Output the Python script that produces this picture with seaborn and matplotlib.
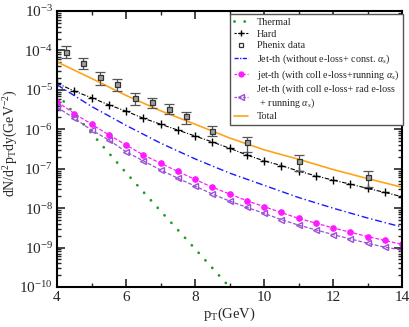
import numpy as np
import pandas as pd
import matplotlib
matplotlib.use("Agg")
import matplotlib.pyplot as plt
import seaborn as sns
from matplotlib.lines import Line2D
from matplotlib.ticker import MultipleLocator, LogLocator, NullFormatter

# ---------------- data ----------------
pt_half = [4.0, 4.5, 5.0, 5.5, 6.0, 6.5, 7.0, 7.5, 8.0, 8.5, 9.0, 9.5,
           10.0, 10.5, 11.0, 11.5, 12.0, 12.5, 13.0, 13.5, 14.0]
hard_log = [-4.83, -5.03, -5.20, -5.38, -5.54, -5.72, -5.87, -6.02, -6.17, -6.32, -6.48,
            -6.65, -6.80, -6.92, -7.06, -7.18, -7.29, -7.39, -7.50, -7.60, -7.71]
coll_log = [-5.30, -5.60, -5.87, -6.14, -6.40, -6.65, -6.86, -7.07, -7.27, -7.47, -7.64,
            -7.81, -7.96, -8.11, -8.26, -8.38, -8.50, -8.61, -8.72, -8.82, -8.92]
rad_log = [-5.44, -5.72, -6.02, -6.27, -6.57, -6.80, -7.03, -7.24, -7.44, -7.64, -7.82,
           -7.98, -8.13, -8.29, -8.43, -8.55, -8.67, -8.78, -8.89, -8.99, -9.06]

pt_int = [4, 5, 6, 7, 8, 9, 10, 11, 12, 13, 14]
noeloss_log = [-4.87, -5.42, -5.90, -6.35, -6.75, -7.11, -7.42, -7.73, -8.00, -8.25, -8.48]
total_log = [-4.29, -4.71, -5.14, -5.53, -5.87, -6.22, -6.52, -6.76, -7.02, -7.25, -7.47]

pt_thermal = [4, 5, 6, 7, 8, 9]
thermal_log = [-5.10, -6.10, -7.10, -8.07, -9.03, -10.00]

phenix_pt = [4.25, 4.75, 5.25, 5.75, 6.25, 6.75, 7.25, 7.75, 8.5, 9.5, 11.0, 13.0]
phenix_log = [-4.03, -4.33, -4.67, -4.85, -5.21, -5.32, -5.49, -5.66, -6.04, -6.33, -6.80, -7.20]
phenix_err_up_dec = [0.14, 0.13, 0.13, 0.12, 0.13, 0.12, 0.13, 0.11, 0.13, 0.13, 0.14, 0.15]
phenix_err_dn_dec = [0.15, 0.15, 0.20, 0.17, 0.18, 0.14, 0.13, 0.20, 0.12, 0.25, 0.27, 0.27]

labels = ["Thermal", "Hard", "Phenix data",
          r"Jet-th (without e-loss+ const. $\alpha_s$)",
          r"jet-th (with coll e-loss+running $\alpha_s$)",
          "Jet-th (with coll e-loss+ rad e-loss\n + running $\\alpha_s$)",
          "Total"]

def tenpow(a):
    return [10.0 ** v for v in a]

# ---------------- style ----------------
sns.set_theme(style="ticks")
plt.rcParams["font.family"] = ["Liberation Serif", "DejaVu Serif"]
plt.rcParams["mathtext.fontset"] = "custom"
plt.rcParams["mathtext.rm"] = "Liberation Serif"
plt.rcParams["mathtext.it"] = "Liberation Serif:italic"
plt.rcParams["mathtext.bf"] = "Liberation Serif:bold"

fig = plt.figure(figsize=(4.09, 3.27), dpi=100)
ax = fig.add_axes([57 / 409, 1 - 287 / 327, 345 / 409, 276 / 327])

c_thermal = "#1f9e1f"
c_hard = "black"
c_blue = "#1a1aff"
c_mag = "#ff1aff"
c_vio = "#9b4fd6"
c_tot = "#ffa319"

df_th = pd.DataFrame({"pt": pt_thermal, "y": tenpow(thermal_log)})
sns.lineplot(data=df_th, x="pt", y="y", ax=ax, color=c_thermal, lw=2.0,
             linestyle=(0, (0.05, 3.6)), dash_capstyle="round", label=labels[0])

df_h = pd.DataFrame({"pt": pt_half, "y": tenpow(hard_log)})
sns.lineplot(data=df_h, x="pt", y="y", ax=ax, color=c_hard, lw=0.8,
             linestyle=(0, (4, 1.5, 1, 1.5)), marker="+", markersize=5.5,
             markeredgecolor=c_hard, markeredgewidth=1.0, label=labels[1])

df_b = pd.DataFrame({"pt": pt_int, "y": tenpow(noeloss_log)})
sns.lineplot(data=df_b, x="pt", y="y", ax=ax, color=c_blue, lw=1.0,
             linestyle=(0, (5, 2, 1, 2)), label=labels[3])

df_m = pd.DataFrame({"pt": pt_half, "y": tenpow(coll_log)})
sns.lineplot(data=df_m, x="pt", y="y", ax=ax, color=c_mag, lw=0.9,
             linestyle=(0, (3, 1.5)), marker="o", markersize=4.0,
             markeredgecolor=c_mag, markerfacecolor=c_mag, label=labels[4])

df_r = pd.DataFrame({"pt": pt_half, "y": tenpow(rad_log)})
sns.lineplot(data=df_r, x="pt", y="y", ax=ax, color=c_vio, lw=0.9,
             linestyle=(0, (3, 1.5)), marker="<", markersize=4.5,
             markeredgecolor=c_vio, markerfacecolor="none", markeredgewidth=1.0,
             label=labels[5])

df_t = pd.DataFrame({"pt": pt_int, "y": tenpow(total_log)})
sns.lineplot(data=df_t, x="pt", y="y", ax=ax, color=c_tot, lw=1.2, label=labels[6])

# Phenix data with error bars
py = np.array(tenpow(phenix_log))
lo = py - py * 10.0 ** (-np.array(phenix_err_dn_dec))
hi = py * 10.0 ** (np.array(phenix_err_up_dec)) - py
ax.errorbar(phenix_pt, py, yerr=[lo, hi], fmt="s", ms=3.6, mfc="#a0a0a0",
            mec="#333333", mew=0.9, ecolor="#555555", elinewidth=0.9,
            capsize=3.5, capthick=0.9, zorder=5)

ax.set_yscale("log")
ax.set_xlim(4, 14)
ax.set_ylim(1e-10, 1e-3)
ax.xaxis.set_major_locator(MultipleLocator(2))
ax.xaxis.set_minor_locator(MultipleLocator(1))
ax.yaxis.set_major_locator(LogLocator(base=10, numticks=20))
ax.yaxis.set_minor_locator(LogLocator(base=10, subs=np.arange(2, 10), numticks=20))
ax.yaxis.set_minor_formatter(NullFormatter())

ax.tick_params(which="both", direction="in", top=True, right=True,
               labelsize=11, pad=3)
ax.tick_params(which="major", length=6, width=1.2)
ax.tick_params(which="minor", length=3, width=1.0)
for s in ax.spines.values():
    s.set_linewidth(1.5)
    s.set_color("black")

ax.set_xlabel(r"p$_\mathrm{T}$(GeV)", fontsize=10.5, labelpad=1)
ax.set_ylabel(r"dN/d$^2$p$_\mathrm{T}$dy(GeV$^{-2}$)", fontsize=10)
ax.yaxis.set_label_coords(-0.108, 0.52)

# legend in reference order
handles = [
    Line2D([], [], color=c_thermal, lw=2.0, linestyle=(0, (0.05, 3.6)), dash_capstyle="round"),
    Line2D([], [], color=c_hard, lw=0.8, linestyle=(0, (2, 1.5)), marker="+", ms=5, mew=1.0),
    Line2D([], [], ls="none", marker="s", ms=3, mfc="none", mec="#333333", mew=0.9),
    Line2D([], [], color=c_blue, lw=1.0, linestyle=(0, (3, 1, 1, 1))),
    Line2D([], [], color=c_mag, lw=0.9, linestyle=(0, (2, 1.5)), marker="o", ms=3.5),
    Line2D([], [], color=c_vio, lw=0.9, linestyle=(0, (2, 1.5)), marker="<", ms=4,
           mfc="none", mew=1.0),
    Line2D([], [], color=c_tot, lw=1.2),
]
leg = ax.legend(handles, labels, loc="upper right", bbox_to_anchor=(1.003, 0.99),
                fontsize=7.3, frameon=True, fancybox=False, framealpha=1,
                edgecolor="#555555", handlelength=1.3, handletextpad=0.9,
                labelspacing=0.25, borderpad=0.4, borderaxespad=0.0)
leg.get_frame().set_linewidth(1.0)

fig.savefig("out.png", dpi=100)
